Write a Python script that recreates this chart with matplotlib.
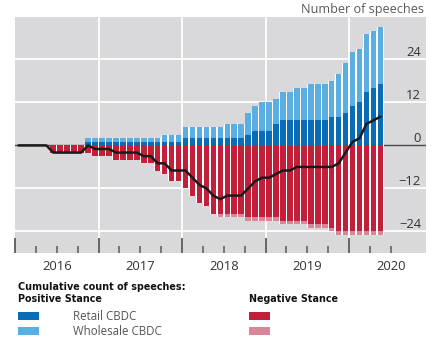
import matplotlib
matplotlib.use("Agg")
import matplotlib.pyplot as plt
import numpy as np
from matplotlib.patches import Rectangle

# ---- data (monthly cumulative counts, Jan 2016 .. May 2020) ----
retail_pos = [0]*10 + [1]*11 + [1]*3 + [2]*6 + [2]*3 + [3] + [4]*3 + [6] + [7]*7 + [8]*2 + [9, 11, 12, 15, 16, 17]
total_pos = [0]*10 + [2]*11 + [3]*3 + [5]*6 + [6]*3 + [9, 11, 12, 12, 13, 15, 15, 16, 16, 17, 17, 17, 18, 20, 23, 26, 27, 31, 32, 33]
retail_neg = [0]*5 + [2]*6 + [3]*3 + [4]*4 + [5]*2 + [7, 8, 10, 10, 12, 14, 16, 17, 19] + [19]*4 + [20]*5 + [21]*4 + [22]*3 + [23] + [24]*7
total_neg = [0]*5 + [2]*6 + [3]*3 + [4]*4 + [5]*2 + [7, 8, 10, 10, 12, 14, 16, 17, 19] + [20]*4 + [21]*5 + [22]*4 + [23]*3 + [24] + [25]*7

years = ["2016", "2017", "2018", "2019", "2020"]
ytick_vals = [24, 12, 0, -12, -24]

retail_pos = np.array(retail_pos)
total_pos = np.array(total_pos)
retail_neg = np.array(retail_neg)
total_neg = np.array(total_neg)
wholesale_pos = total_pos - retail_pos
wholesale_neg = total_neg - retail_neg
net = total_pos - total_neg
x = np.arange(len(retail_pos)) + 0.5

C_RET = "#0A6BB6"
C_WHO = "#5AAEE2"
C_RED = "#C21F3A"
C_PINK = "#D98699"
C_BG = "#D9D9DC"

plt.rcParams["font.family"] = ["Open Sans", "DejaVu Sans"]

W, H = 440, 344
fig = plt.figure(figsize=(4.4, 3.44), dpi=100)
ax = fig.add_axes([15/W, 1-253/H, 411/W, 236/H])
ax.set_facecolor(C_BG)
ax.set_xlim(0, 59.05)
ax.set_ylim(-30, 35.8)
for s in ax.spines.values():
    s.set_visible(False)

for v in [24, 12, -12, -24]:
    ax.axhline(v, color="white", lw=1.3, zorder=1)
for i in range(1, len(years)):
    ax.axvline(12*i, color="white", lw=1.3, zorder=1)
ax.axhline(0, color="#4a4a4a", lw=1.0, zorder=1.5)

# white backing so the gaps between bars show white
ax.bar(x, total_pos + total_neg, bottom=-total_neg, width=1.0, color="white", zorder=2, linewidth=0)
bw = 0.8
ax.bar(x, retail_pos, width=bw, color=C_RET, zorder=3, linewidth=0)
ax.bar(x, wholesale_pos, bottom=retail_pos, width=bw, color=C_WHO, zorder=3, linewidth=0)
ax.bar(x, -retail_neg, width=bw, color=C_RED, zorder=3, linewidth=0)
ax.bar(x, -wholesale_neg, bottom=-retail_neg, width=bw, color=C_PINK, zorder=3, linewidth=0)

ax.plot(x, net, color="#1a1a1a", lw=1.8, zorder=5, solid_joinstyle="round", solid_capstyle="round")

# ticks
ax.set_xticks([12*i for i in range(len(years))])
ax.set_xticks([q for q in range(0, 55, 3) if q % 12], minor=True)
ax.tick_params(axis="x", which="major", direction="in", length=10.8, width=1.3, color="#5a5a5a", labelbottom=False)
ax.tick_params(axis="x", which="minor", direction="in", length=5, width=1.1, color="#5a5a5a")
ax.set_yticks([])
for i, yr in enumerate(years):
    ax.text(12*i + 6, -0.058, yr, transform=ax.get_xaxis_transform(), ha="center", va="center",
            fontsize=9.4, color="#333333")

for v in ytick_vals:
    lab = str(v).replace("-", "\u2212")
    ax.annotate(lab, xy=(0.988, v), xycoords=ax.get_yaxis_transform(), xytext=(0, 5.0),
                textcoords="offset points", ha="right", va="center", fontsize=9.4, color="#333333")

fig.text(424/W, 1-10/H, "Number of speeches", ha="right", va="center", fontsize=9.1, color="#5a5a5a")

# legend
hdr = dict(fontsize=6.9, fontweight="bold", color="#111111", va="center", family=["DejaVu Sans"])
fig.text(18/W, 1-286.7/H, "Cumulative count of speeches:", **hdr)
fig.text(18/W, 1-298.7/H, "Positive Stance", **hdr)
fig.text(249/W, 1-298.7/H, "Negative Stance", **hdr)
for (px, py, c) in [(18, 311.7, C_RET), (18, 326.7, C_WHO), (249.3, 311.7, C_RED), (249.3, 326.7, C_PINK)]:
    fig.patches.append(Rectangle((px/W, 1-(py+8.5)/H), 21/W, 8.5/H, transform=fig.transFigure,
                                 facecolor=c, edgecolor="none"))
fig.text(72.7/W, 1-316/H, "Retail CBDC", fontsize=8.3, color="#555555", va="center")
fig.text(72.7/W, 1-331.3/H, "Wholesale CBDC", fontsize=8.3, color="#555555", va="center")

fig.savefig("out.png", dpi=100)
